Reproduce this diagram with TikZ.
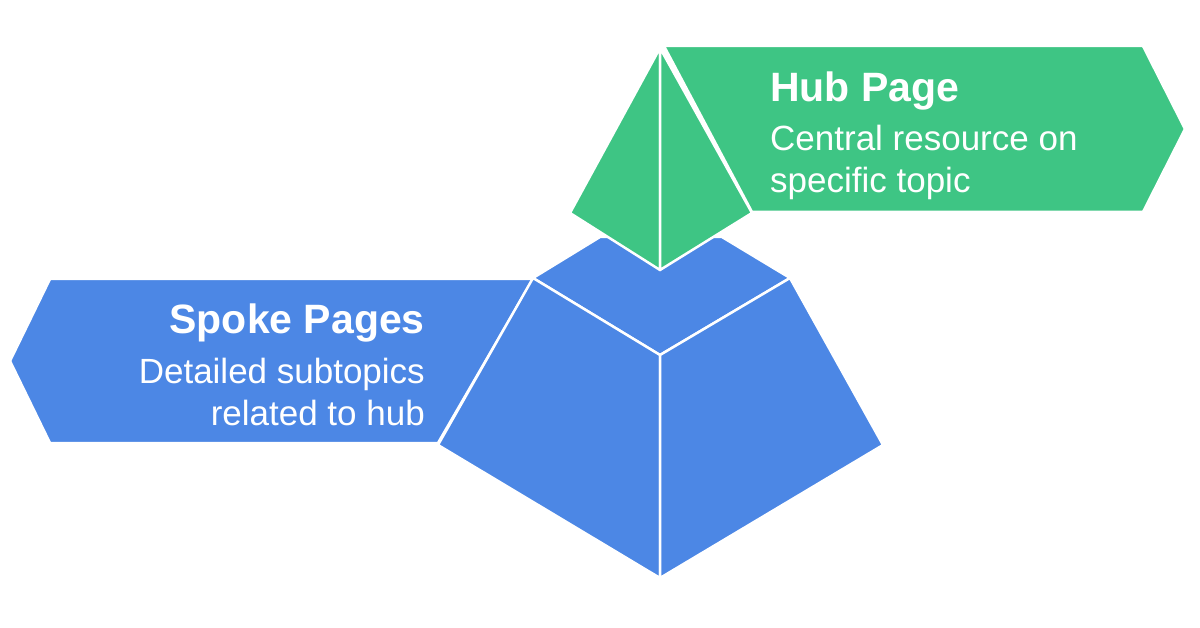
\documentclass[tikz,border=0pt]{standalone}
\usepackage{fontspec}
\setmainfont{Liberation Sans}
\definecolor{gr}{HTML}{3EC584}
\definecolor{bl}{HTML}{4C87E5}
\begin{document}
\begin{tikzpicture}[x=1pt,y=-1pt,
  face/.style={draw=white,line width=2.5pt,line join=round},
  ttl/.style={font=\fontsize{41}{46}\selectfont\bfseries,text=white,inner sep=0pt},
  sub/.style={font=\fontsize{35}{40}\selectfont,text=white,inner sep=0pt,align=left}]
\useasboundingbox[fill=white] (0,0) rectangle (1200,628);
% blue banner
\fill[bl,face] (533,279) -- (50,279) -- (10,361) -- (50,443) -- (438,443) -- cycle;
% blue frustum
\fill[bl,face] (533,278) -- (600,237) -- (722,237) -- (790,278) -- (660,355) -- cycle;
\fill[bl,face] (533,278) -- (660,355) -- (660,578) -- (438,445) -- cycle;
\fill[bl,face] (660,355) -- (790,278) -- (883,445) -- (660,578) -- cycle;
% green banner
\fill[gr,face] (664,46) -- (1143,46) -- (1185,129) -- (1143,212) -- (752,212) -- cycle;
% green pyramid
\fill[gr,face] (660,48) -- (570,213) -- (660,270) -- cycle;
\fill[gr,face] (660,48) -- (752,213) -- (660,270) -- cycle;
% texts
\node[ttl,anchor=base east] (st) at (425,334) {Spoke Pages};
\node[sub,anchor=base east] (s1) at (425,384) {Detailed subtopics};
\node[sub,anchor=base east] (s2) at (425,425) {related to hub};
\node[ttl,anchor=base west] (ht) at (770,102) {Hub Page};
\node[sub,anchor=base west] (h1) at (770,151) {Central resource on};
\node[sub,anchor=base west] (h2) at (770,193) {specific topic};
\end{tikzpicture}
\end{document}
